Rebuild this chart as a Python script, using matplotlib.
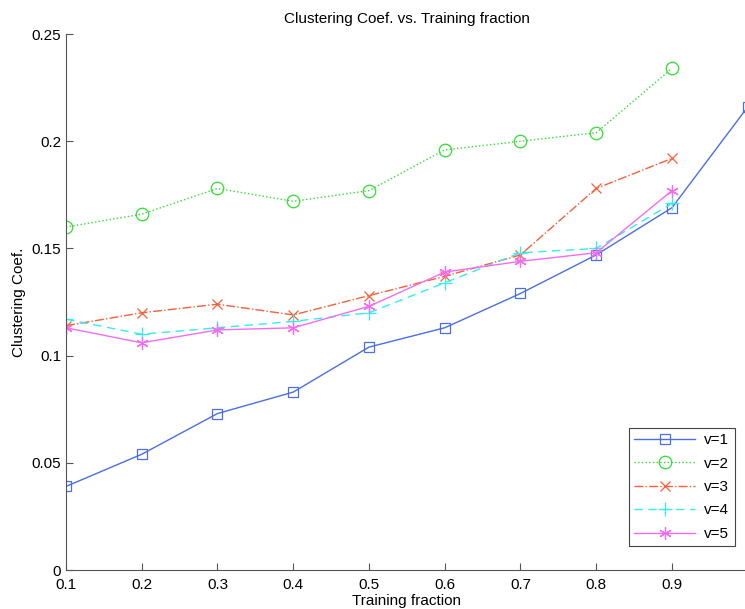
import matplotlib.pyplot as plt
import numpy as np

plt.rcParams['font.family'] = ['Liberation Sans', 'DejaVu Sans']

frac = [0.1, 0.2, 0.3, 0.4, 0.5, 0.6, 0.7, 0.8, 0.9]
frac_v1 = frac + [1.0]
v1 = [0.039, 0.054, 0.073, 0.083, 0.104, 0.113, 0.129, 0.147, 0.169, 0.216]
v2 = [0.160, 0.166, 0.178, 0.172, 0.177, 0.196, 0.200, 0.204, 0.234]
v3 = [0.114, 0.120, 0.124, 0.119, 0.128, 0.137, 0.147, 0.178, 0.192]
v4 = [0.117, 0.110, 0.113, 0.116, 0.120, 0.134, 0.148, 0.150, 0.171]
v5 = [0.113, 0.106, 0.112, 0.113, 0.123, 0.139, 0.144, 0.148, 0.177]
xticks = [0.1, 0.2, 0.3, 0.4, 0.5, 0.6, 0.7, 0.8, 0.9]
yticks = [0, 0.05, 0.1, 0.15, 0.2, 0.25]

fig = plt.figure(figsize=(7.45, 6.09), dpi=100)
ax = fig.add_axes([0.0886, 0.064, 0.915, 0.880])

ax.plot(frac_v1, v1, color='#4a6fe3', linestyle='-', linewidth=1, marker='s',
        markersize=6.5, markerfacecolor='none', markeredgewidth=0.9, label='v=1')
ax.plot(frac, v2, color='#33dd33', linestyle=':', linewidth=1, marker='o',
        markersize=9, markerfacecolor='none', markeredgewidth=0.9, label='v=2')
ax.plot(frac, v3, color='#f5603a', linestyle='-.', linewidth=1, marker='x',
        markersize=7, markeredgewidth=0.9, label='v=3')
ax.plot(frac, v4, color='#33eeee', linestyle=(0, (6, 4)), linewidth=1, marker='+',
        markersize=10, markeredgewidth=0.9, label='v=4')
ax.plot(frac, v5, color='#f26df2', linestyle='-', linewidth=1, marker=(6, 2, 0),
        markersize=9, markeredgewidth=0.9, label='v=5')

ax.set_xlim(0.1, 1.0)
ax.set_ylim(0, 0.25)
ax.set_xticks(xticks)
ax.set_xticklabels(['0.1', '0.2', '0.3', '0.4', '0.5', '0.6', '0.7', '0.8', '0.9'])
ax.set_yticks(yticks)
ax.set_yticklabels(['0', '0.05', '0.1', '0.15', '0.2', '0.25'])
ax.tick_params(direction='in', length=5, labelsize=11, color='#555555')
ax.tick_params(axis='x', pad=6)
ax.spines['top'].set_visible(False)
ax.spines['right'].set_visible(False)
ax.spines['left'].set_color('#555555')
ax.spines['bottom'].set_color('#555555')

ax.set_title('Clustering Coef. vs. Training fraction', fontsize=11, pad=8)
ax.set_xlabel('Training fraction', fontsize=11, labelpad=1)
ax.set_ylabel('Clustering Coef.', fontsize=11, labelpad=4)

leg = ax.legend(loc='lower right', bbox_to_anchor=(0.992, 0.03), fontsize=11,
                fancybox=False, framealpha=1, edgecolor='#444444',
                handlelength=4.0, borderpad=0.35, labelspacing=0.62, handletextpad=0.6)
leg.get_frame().set_linewidth(0.8)

plt.savefig('out.png', dpi=100)
